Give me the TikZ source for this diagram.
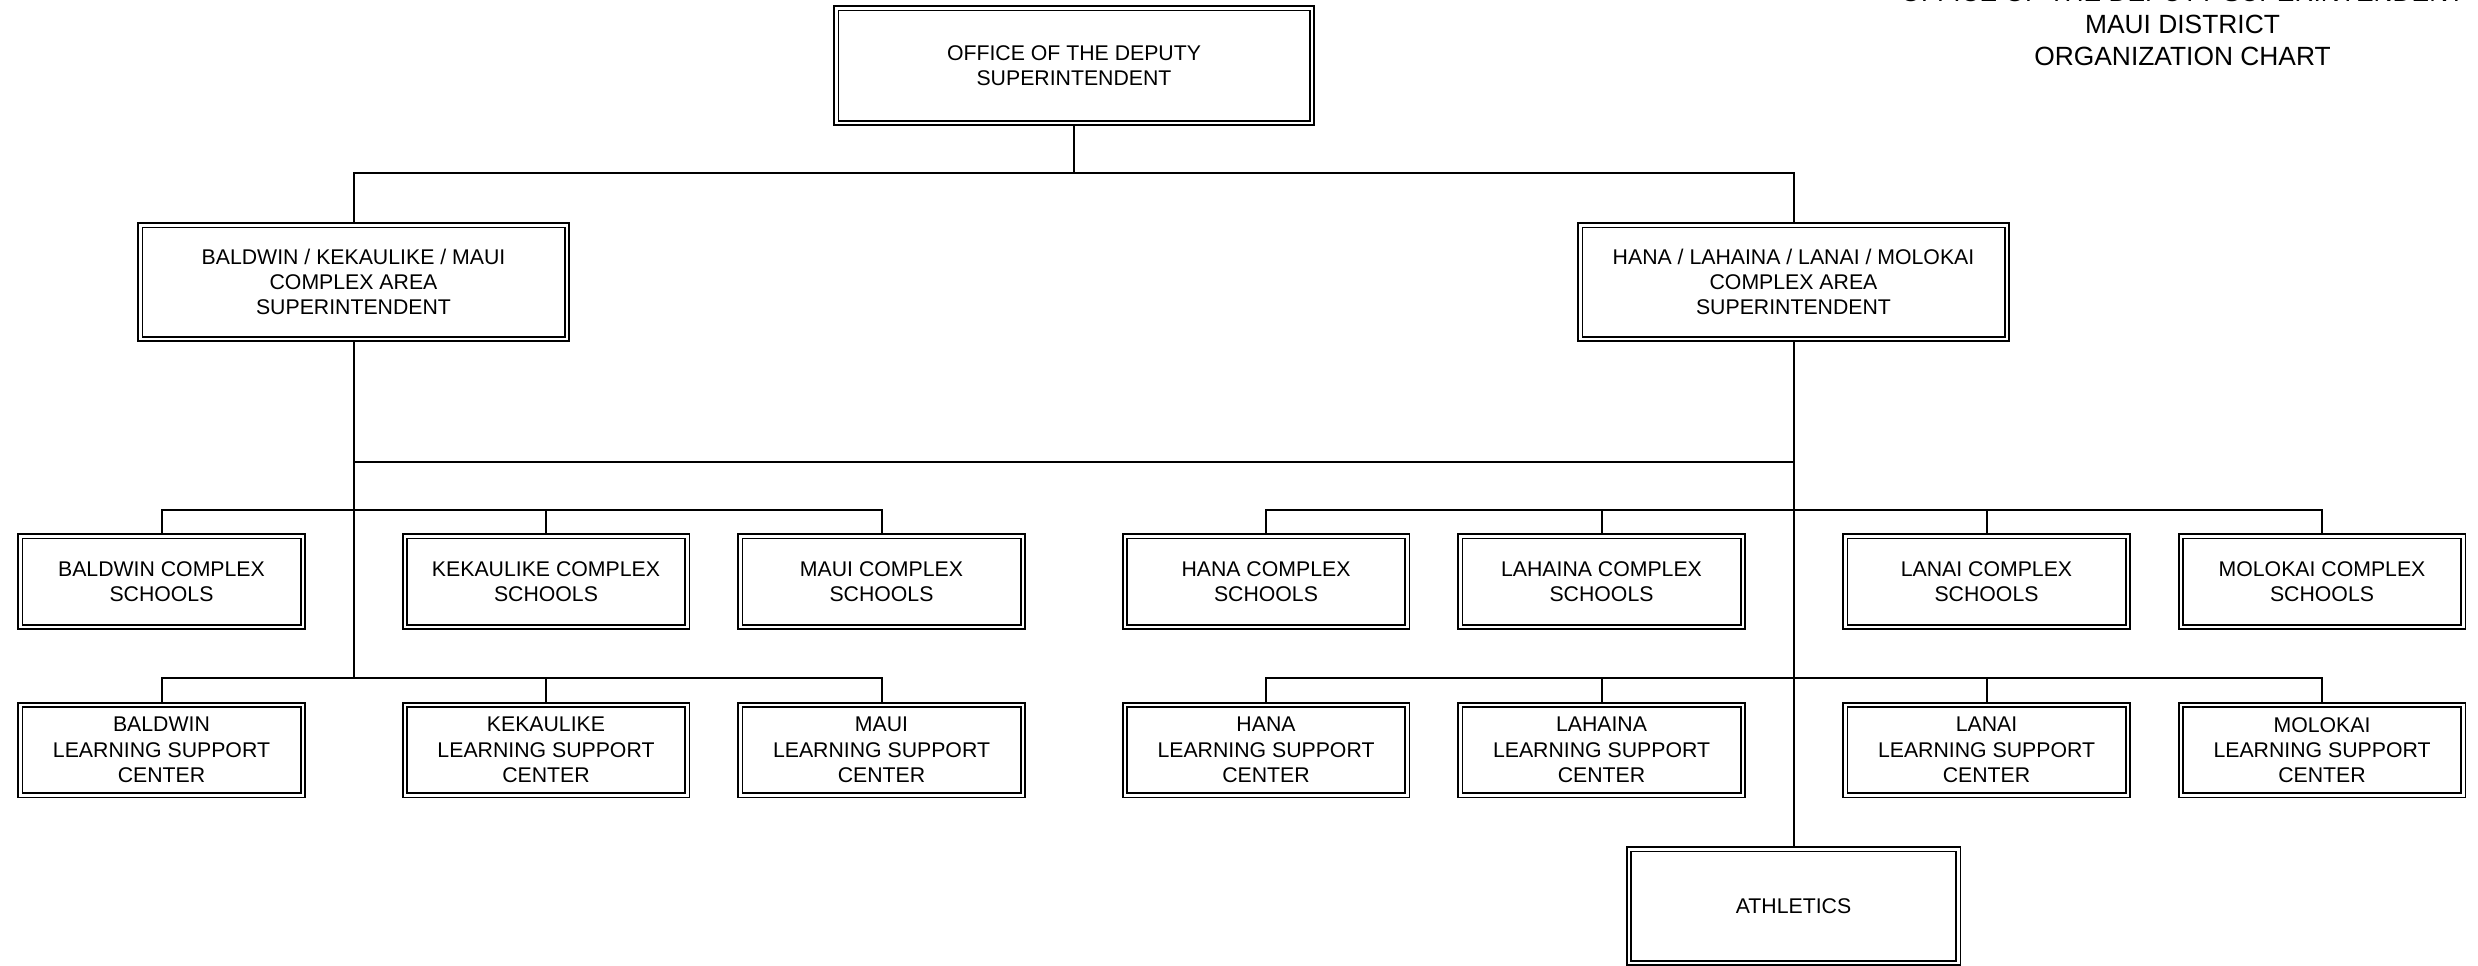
\documentclass[tikz,border=0pt]{standalone}
\usepackage{fontspec}
\setmainfont{Liberation Sans}

\begin{document}
\begin{tikzpicture}[
    unit/.style={
        draw, double, line width=0.038cm, double distance=0.05cm,
        outer sep=0.063cm, inner sep=0pt,
        minimum width=5.65cm, minimum height=1.81cm,
        font=\fontsize{12.1}{14.4}\selectfont, align=center,
    },
    link/.style={line width=0.04cm},
    heading/.style={font=\fontsize{15}{18.2}\selectfont, align=center},
]
\useasboundingbox (0,0) rectangle (49.56,-19.30);

% ── Title ──
\node[heading, anchor=base] (title) at (43.65, -1.30)
    {OFFICE OF THE DEPUTY SUPERINTENDENT\\MAUI DISTRICT\\ORGANIZATION CHART};

% ── Deputy superintendent ──
\node[unit, minimum width=9.51cm, minimum height=2.29cm] (deputy) at (21.48, -1.31)
    {OFFICE OF THE DEPUTY\\SUPERINTENDENT};

% ── Complex area superintendents ──
\node[unit, minimum width=8.53cm, minimum height=2.27cm] (cas_bkm) at (7.07, -5.64)
    {BALDWIN / KEKAULIKE / MAUI\\COMPLEX AREA\\SUPERINTENDENT};
\node[unit, minimum width=8.53cm, minimum height=2.27cm] (cas_hllm) at (35.87, -5.64)
    {HANA / LAHAINA / LANAI / MOLOKAI\\COMPLEX AREA\\SUPERINTENDENT};

% ── Complex schools ──
\node[unit] (baldwin_sch)   at (3.23, -11.63)  {BALDWIN COMPLEX\\SCHOOLS};
\node[unit] (kekaulike_sch) at (10.92, -11.63) {KEKAULIKE COMPLEX\\SCHOOLS};
\node[unit] (maui_sch)      at (17.63, -11.63) {MAUI COMPLEX\\SCHOOLS};
\node[unit] (hana_sch)      at (25.32, -11.63) {HANA COMPLEX\\SCHOOLS};
\node[unit] (lahaina_sch)   at (32.03, -11.63) {LAHAINA COMPLEX\\SCHOOLS};
\node[unit] (lanai_sch)     at (39.73, -11.63) {LANAI COMPLEX\\SCHOOLS};
\node[unit] (molokai_sch)   at (46.44, -11.63) {MOLOKAI COMPLEX\\SCHOOLS};

% ── Learning support centers ──
\node[unit] (baldwin_lsc)   at (3.23, -15.0)  {BALDWIN\\LEARNING SUPPORT\\CENTER};
\node[unit] (kekaulike_lsc) at (10.92, -15.0) {KEKAULIKE\\LEARNING SUPPORT\\CENTER};
\node[unit] (maui_lsc)      at (17.63, -15.0) {MAUI\\LEARNING SUPPORT\\CENTER};
\node[unit] (hana_lsc)      at (25.32, -15.0) {HANA\\LEARNING SUPPORT\\CENTER};
\node[unit] (lahaina_lsc)   at (32.03, -15.0) {LAHAINA\\LEARNING SUPPORT\\CENTER};
\node[unit] (lanai_lsc)     at (39.73, -15.0) {LANAI\\LEARNING SUPPORT\\CENTER};
\node[unit] (molokai_lsc)   at (46.44, -15.0) {MOLOKAI\\LEARNING SUPPORT\\CENTER};

% ── Athletics ──
\node[unit, minimum width=6.59cm, minimum height=2.27cm] (athletics) at (35.87, -18.12)
    {ATHLETICS};

% ── Top split ──
\draw[link] (deputy.south) -- ++(0, -0.94) coordinate (split);
\draw[link] (cas_bkm.north) |- (split) -| (cas_hllm.north);

% ── Trunks ──
\draw[link] (cas_bkm.south) -- ++(0, -6.72);
\draw[link] (cas_hllm.south) -- (athletics.north);
\draw[link] ([yshift=-2.4cm]cas_bkm.south) -- ([yshift=-2.4cm]cas_hllm.south);

% ── Schools bars ──
\draw[link] (baldwin_sch.north) -- ++(0, 0.46) -| (maui_sch.north);
\draw[link] (kekaulike_sch.north) -- ++(0, 0.46);
\draw[link] (hana_sch.north) -- ++(0, 0.46) -| (molokai_sch.north);
\draw[link] (lahaina_sch.north) -- ++(0, 0.46);
\draw[link] (lanai_sch.north) -- ++(0, 0.46);

% ── Support center bars ──
\draw[link] (baldwin_lsc.north) -- ++(0, 0.48) -| (maui_lsc.north);
\draw[link] (kekaulike_lsc.north) -- ++(0, 0.48);
\draw[link] (hana_lsc.north) -- ++(0, 0.48) -| (molokai_lsc.north);
\draw[link] (lahaina_lsc.north) -- ++(0, 0.48);
\draw[link] (lanai_lsc.north) -- ++(0, 0.48);

\end{tikzpicture}
\end{document}
